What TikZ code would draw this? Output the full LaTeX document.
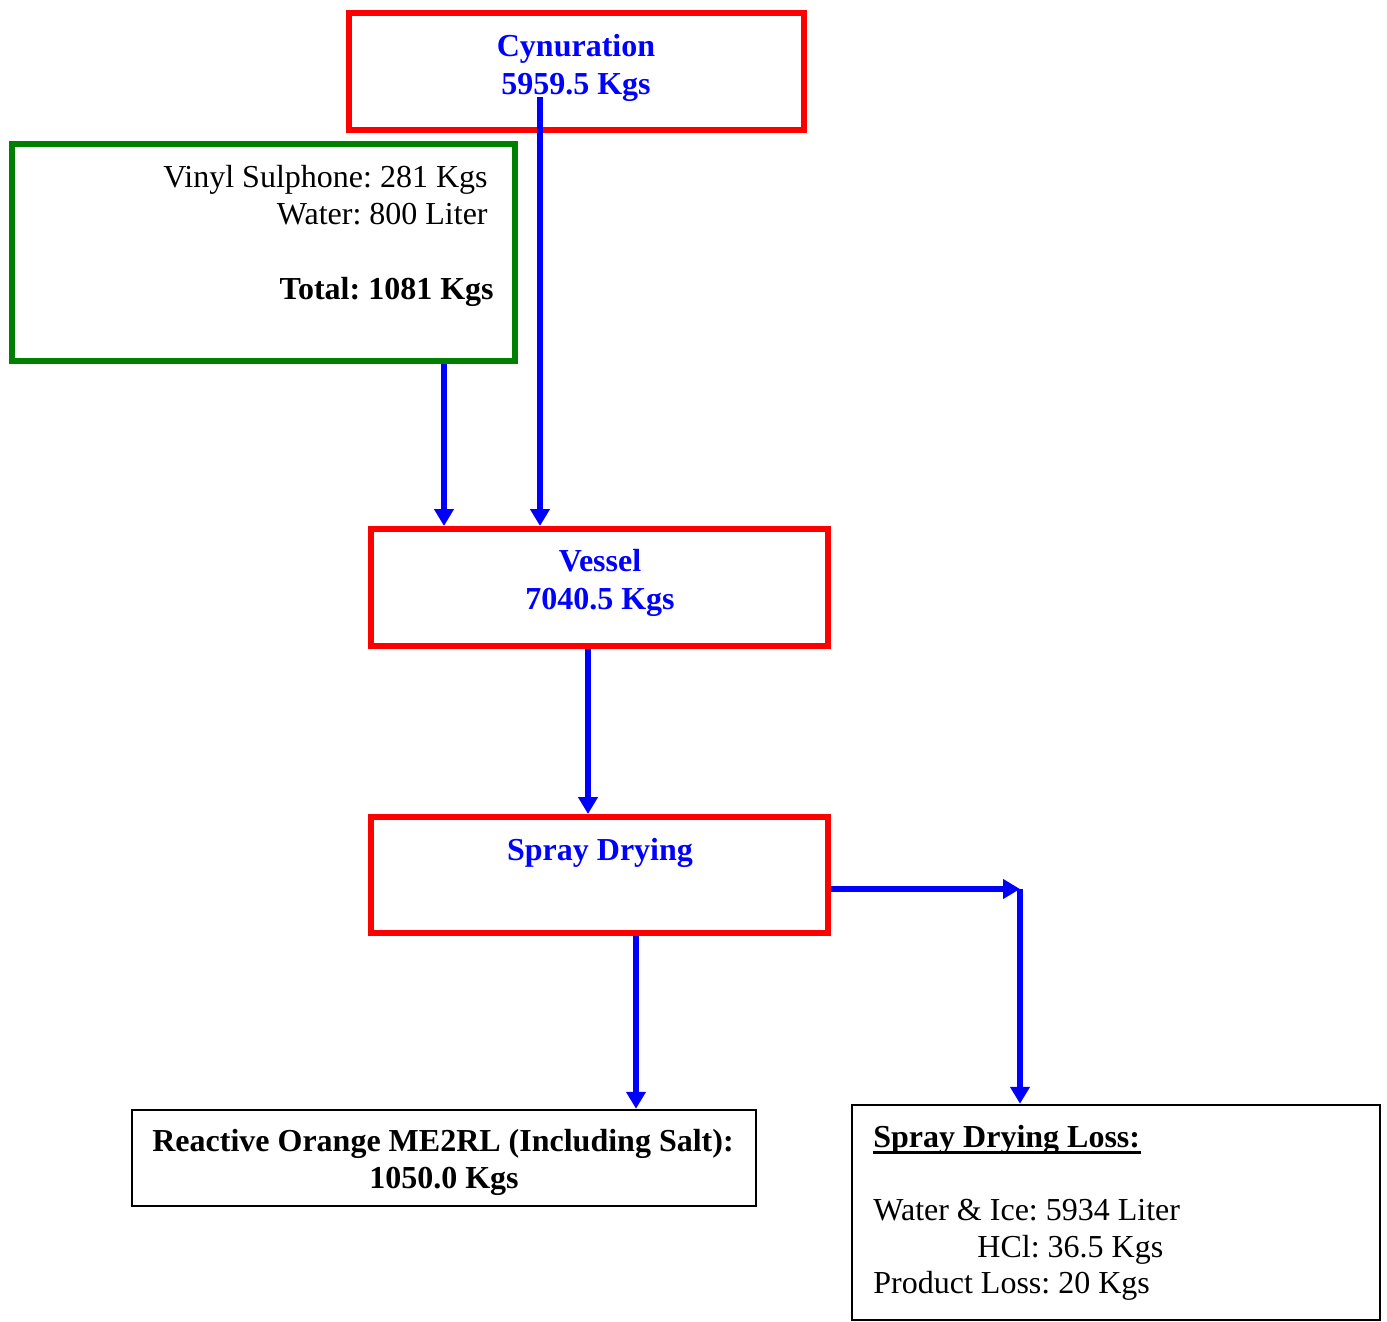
\documentclass[tikz,border=0pt]{standalone}
\usepackage{fontspec}
\setmainfont{Liberation Serif}
\usetikzlibrary{arrows.meta}
\definecolor{procred}{RGB}{255,0,0}
\definecolor{flowblue}{RGB}{0,0,255}
\definecolor{feedgreen}{RGB}{0,128,0}
\frenchspacing
\begin{document}
\begin{tikzpicture}[x=0.5pt,y=-0.5pt,
  every node/.style={font=\fontsize{16}{18.5}\selectfont},
  procbox/.style={draw=procred,line width=3pt,rectangle,inner sep=0pt,
    minimum width=#1},
  feedbox/.style={draw=feedgreen,line width=3pt,rectangle,inner sep=0pt},
  outbox/.style={draw=black,line width=1.25pt,rectangle,inner sep=0pt},
  proctext/.style={text=flowblue,font=\fontsize{16}{18.5}\selectfont\bfseries,
    inner sep=0pt,anchor=base},
  plaintext/.style={inner sep=0pt},
  flow/.style={draw=flowblue,line width=3pt,
    -{Triangle[length=8.5pt,width=9.5pt]}}]
\useasboundingbox (0,0) rectangle (1387,1322);

% process boxes
\node[procbox=227.5pt,minimum height=58.25pt] (cyn) at (576,71.75) {};
\node[procbox=228.5pt,minimum height=58.5pt] (vessel) at (599.5,587.5) {};
\node[procbox=228.5pt,minimum height=58pt] (spray) at (599.5,875) {};

% feed box
\node[feedbox,minimum width=251.75pt,minimum height=108pt] (feed) at (263.25,252.5) {};

% output boxes
\node[outbox,minimum width=312pt,minimum height=48pt] (prod) at (444,1158) {};
\node[outbox,minimum width=264pt,minimum height=107.5pt] (loss) at (1116,1212.5) {};

% process labels
\node[proctext] (cynA) at (576,57) {Cynuration};
\node[proctext] (cynB) at (576,95) {5959.5 Kgs};
\node[proctext] (vesA) at (600,571.5) {Vessel};
\node[proctext] (vesB) at (600,609) {7040.5 Kgs};
\node[proctext] (sprA) at (600,860) {Spray Drying};

% feed labels
\node[plaintext,anchor=base east] (feedA) at (488,187.5) {Vinyl Sulphone: 281 Kgs};
\node[plaintext,anchor=base east] (feedB) at (488,224) {Water: 800 Liter};
\node[plaintext,anchor=base east,font=\fontsize{16}{18.5}\selectfont\bfseries] (feedC) at (494,299) {Total: 1081 Kgs};

% product labels
\node[plaintext,anchor=base,font=\fontsize{16}{18.5}\selectfont\bfseries] (prodA) at (443,1151) {Reactive Orange ME2RL (Including Salt):};
\node[plaintext,anchor=base,font=\fontsize{16}{18.5}\selectfont\bfseries] (prodB) at (444,1188) {1050.0 Kgs};

% loss labels
\node[plaintext,anchor=base west,font=\fontsize{16}{18.5}\selectfont\bfseries] (lossH) at (873,1147) {Spray Drying Loss:};
\draw[line width=1.4pt] ([yshift=-2.6pt]lossH.base west) -- ([yshift=-2.6pt]lossH.base east);
\node[plaintext,anchor=base west] (lossA) at (873,1220) {Water \& Ice: 5934 Liter};
\node[plaintext,anchor=base west] (lossB) at (977,1257) {HCl: 36.5 Kgs};
\node[plaintext,anchor=base west] (lossC) at (873,1293.5) {Product Loss: 20 Kgs};

% connectors
\coordinate (cynout) at (540,97);
\coordinate (feedcol) at (444,0);
\coordinate (vescol) at (588,0);
\coordinate (spraycol) at (636,0);
\coordinate (bend) at (1020,889);

\draw[flow] (cynout) -- (cynout |- vessel.north);
\draw[flow] (feed.south -| feedcol) -- (vessel.north -| feedcol);
\draw[flow] (vessel.south -| vescol) -- (spray.north -| vescol);
\draw[flow] (spray.south -| spraycol) -- (prod.north -| spraycol);
\draw[flow] (spray.east |- bend) -- (bend);
\draw[flow] (bend) -- (bend |- loss.north);
\end{tikzpicture}
\end{document}
